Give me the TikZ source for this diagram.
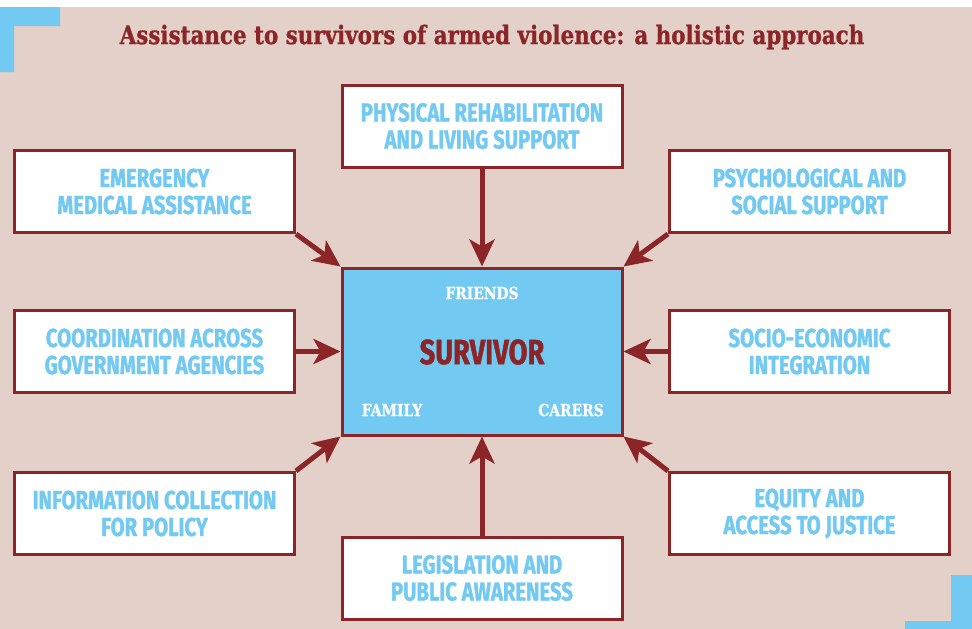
\documentclass[tikz,border=0pt]{standalone}
\usepackage{fontspec}
\usetikzlibrary{arrows.meta}
\newfontfamily\boxfont[FakeStretch=0.78,FakeBold=1.2]{Fira Sans}
\newfontfamily\slabfont[FakeStretch=0.84,FakeBold=1]{DejaVu Serif}
\definecolor{surB}{RGB}{114,201,242}
\definecolor{surR}{RGB}{139,37,40}
\definecolor{surBg}{RGB}{227,209,201}
\tikzset{
  area/.style={draw=surR,line width=3pt,fill=white,minimum width=280pt,minimum height=82pt,inner sep=0pt,align=center,text=surB,font=\boxfont\bfseries\fontsize{26}{27}\selectfont},
  link/.style={surR,line width=5pt,-{Stealth[length=27pt,width=25pt,inset=7pt]}},
  tag/.style={text=white,font=\slabfont\bfseries\fontsize{16.5}{16.5}\selectfont}
}
\begin{document}
\begin{tikzpicture}[x=1pt,y=-1pt]
\useasboundingbox (0,0) rectangle (972,629);
\fill[white] (0,0) rectangle (972,7);
\fill[surBg] (0,7) rectangle (972,629);
\fill[surB] (0,7)--(60,7)--(60,26)--(14,26)--(14,72)--(0,72)--cycle;
\fill[surB] (951,575)--(972,575)--(972,629)--(905,629)--(905,621)--(951,621)--cycle;
\node[text=surR,font=\slabfont\bfseries\fontsize{25.5}{25.5}\selectfont] (title) at (492,37) {Assistance to survivors of armed violence: a holistic approach};
\node[area,minimum height=167pt,fill=surB] (surv) at (482,351.5) {};
\node[text=surR,font=\boxfont\bfseries\fontsize{35}{35}\selectfont] (survlbl) at (482,352) {SURVIVOR};
\node[tag] (friends) at (482,293) {FRIENDS};
\node[tag] (family) at (392,410) {FAMILY};
\node[tag] (carers) at (571,410) {CARERS};
\node[area] (phys) at (482,126) {PHYSICAL REHABILITATION\\AND LIVING SUPPORT};
\node[area] (emerg) at (154.5,191.5) {EMERGENCY\\MEDICAL ASSISTANCE};
\node[area] (psych) at (809.5,191.5) {PSYCHOLOGICAL AND\\SOCIAL SUPPORT};
\node[area] (coord) at (154.5,351.5) {COORDINATION ACROSS\\GOVERNMENT AGENCIES};
\node[area] (socio) at (809.5,351.5) {SOCIO-ECONOMIC\\INTEGRATION};
\node[area] (info) at (154.5,513.5) {INFORMATION COLLECTION\\FOR POLICY};
\node[area] (equity) at (809.5,513.5) {EQUITY AND\\ACCESS TO JUSTICE};
\node[area] (legis) at (482,578) {LEGISLATION AND\\PUBLIC AWARENESS};
\draw[link] (phys.south) -- (surv.north);
\draw[link] (legis.north) -- (surv.south);
\draw[link] (coord.east) -- (surv.west);
\draw[link] (socio.west) -- (surv.east);
\draw[link] (emerg.south east) -- (surv.north west);
\draw[link] (psych.south west) -- (surv.north east);
\draw[link] (info.north east) -- (surv.south west);
\draw[link] (equity.north west) -- (surv.south east);
\end{tikzpicture}
\end{document}
